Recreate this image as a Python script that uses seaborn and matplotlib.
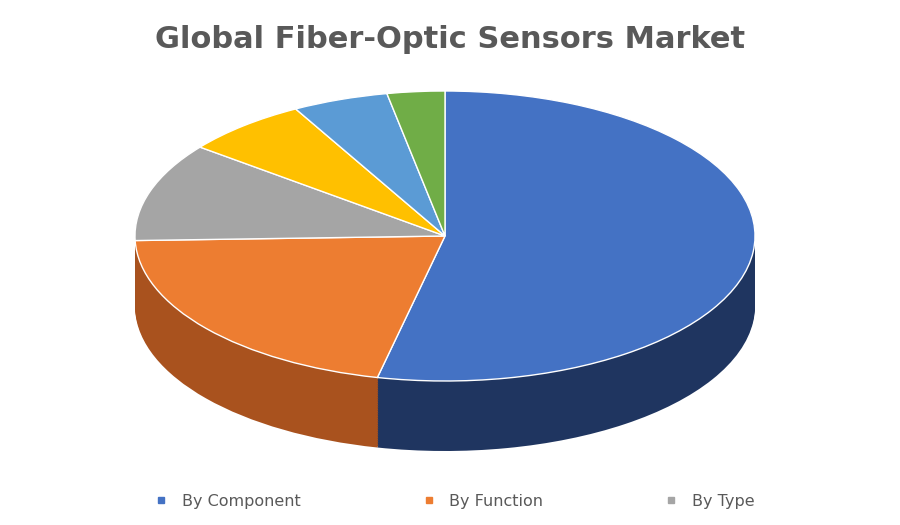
import matplotlib
matplotlib.use("Agg")
import matplotlib.pyplot as plt
import seaborn as sns
import numpy as np

categories = ["By Component", "By Function", "By Type", "Segment 4", "Segment 5", "Segment 6"]
values = [53.5, 21.0, 11.0, 6.5, 5.0, 3.0]
colors = ["#4472C4", "#ED7D31", "#A5A5A5", "#FFC000", "#5B9BD5", "#70AD47"]
side_colors = ["#1F3560", "#A9521E", "#6E6E6E", "#B08600", "#3A6C98", "#4A7A2E"]
legend_labels = ["By Component", "By Function", "By Type"]

sns.set_theme(style="white")
fig = plt.figure(figsize=(9, 5.25), dpi=100)
ax = fig.add_axes([0, 0, 1, 1])
ax.axis("off")

depth = 70 / 145
n_layers = 40
for i in range(n_layers, 0, -1):
    d = depth * i / n_layers
    ax.pie(values, colors=side_colors, startangle=90, counterclock=False,
           center=(0, -d), radius=1, wedgeprops=dict(linewidth=0))
ax.pie(values, colors=colors, startangle=90, counterclock=False,
       center=(0, 0), radius=1, wedgeprops=dict(linewidth=1, edgecolor="white"))
ax.set_aspect("auto")
ax.set_xlim(-445 / 310, 455 / 310)
ax.set_ylim(-289 / 145, 236 / 145)

fig.text(0.5, 0.925, "Global Fiber-Optic Sensors Market", ha="center", va="center",
         fontsize=22, fontweight="bold", color="#595959")

from matplotlib.lines import Line2D
handles = [Line2D([], [], marker="s", linestyle="", color=c, markersize=5) for c in colors[:3]]
fig.legend(handles, legend_labels, loc="center", bbox_to_anchor=(0.5, 0.045), ncol=3,
           frameon=False, fontsize=11.5, labelcolor="#595959", columnspacing=7,
           handletextpad=0.3)
fig.savefig("out.png", dpi=100)
